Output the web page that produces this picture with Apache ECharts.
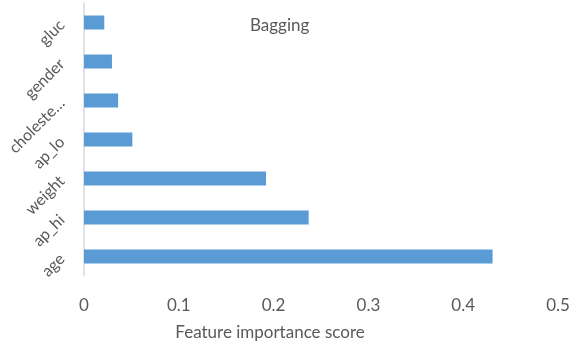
<!DOCTYPE html>
<html>
<head>
<meta charset="utf-8">
<script src="https://cdn.jsdelivr.net/npm/echarts@6/dist/echarts.min.js"></script>
<style>
    html, body { margin: 0; padding: 0; background: #fff; }
    #chart { width: 574px; height: 343px; }
</style>
</head>
<body>
<div id="chart"></div>
<script>
// features, bottom to top
var features = ['age', 'ap_hi', 'weight', 'ap_lo', 'cholesterol', 'gender', 'gluc'];
var scores = [0.431, 0.237, 0.192, 0.051, 0.036, 0.0295, 0.0214];
var xTicks = [0, 0.1, 0.2, 0.3, 0.4, 0.5];

var myChart = echarts.init(document.getElementById('chart'));
var font = 'Lato';
var grey = '#595959';

option = {
    animation: false,
    title: {
        text: 'Bagging',
        left: 245,
        top: 12,
        textStyle: { fontFamily: font, fontSize: 17, fontWeight: 'normal', color: grey }
    },
    grid: {
        left: 84,
        right: 16,
        top: 3,
        bottom: 67,
        outerBoundsMode: 'none'
    },
    xAxis: {
        type: 'value',
        min: xTicks[0],
        max: xTicks[xTicks.length - 1],
        interval: 0.1,
        name: 'Feature importance score',
        nameLocation: 'middle',
        nameGap: 48,
        nameTextStyle: { fontFamily: font, fontSize: 17, color: grey, padding: [0, 102, 0, 0] },
        axisLine: { show: false },
        axisTick: { show: false },
        splitLine: { show: false },
        axisLabel: {
            margin: 21,
            fontFamily: font,
            fontSize: 17,
            color: grey,
            formatter: function (v) { return String(Math.round(v * 10) / 10); }
        }
    },
    yAxis: {
        type: 'category',
        data: features,
        axisLine: { lineStyle: { color: '#d9d9d9', width: 1.5 } },
        axisTick: { show: false },
        axisLabel: {
            rotate: 45,
            margin: 22,
            fontFamily: font,
            fontSize: 16,
            color: grey,
            formatter: function (v) {
                return v.length > 9 ? v.slice(0, 8) + '…' : v;
            }
        }
    },
    series: [{
        type: 'bar',
        data: scores,
        barWidth: 14,
        itemStyle: { color: '#5b9bd5' }
    }]
};
myChart.setOption(option);
</script>
</body>
</html>
